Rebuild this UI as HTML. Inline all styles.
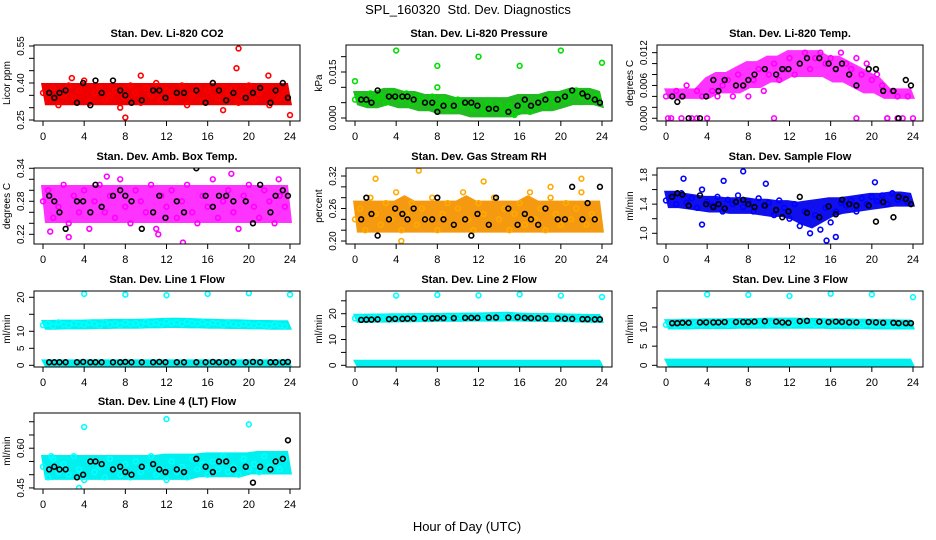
<!DOCTYPE html>
<html><head><meta charset="utf-8">
<style>
html,body{margin:0;padding:0;background:#fff;}
svg{display:block;font-family:"Liberation Sans",Arial,sans-serif;}
</style></head>
<body>
<svg id="chart" width="936" height="540" viewBox="0 0 936 540">
<rect width="936" height="540" fill="#fff"/>
<text x="468" y="14" text-anchor="middle" font-size="13">SPL_160320 &#160;Std. Dev. Diagnostics</text>
<text x="467" y="531" text-anchor="middle" font-size="13">Hour of Day (UTC)</text>
</svg>
<script>
// ---- shared categories ----
const hoursHalf = [0,0.5,1,1.5,2,2.5,3,3.5,4,4.5,5,5.5,6,6.5,7,7.5,8,8.5,9,9.5,10,10.5,11,11.5,12,12.5,13,13.5,14,14.5,15,15.5,16,16.5,17,17.5,18,18.5,19,19.5,20,20.5,21,21.5,22,22.5,23,23.5];
const hoursBand = [0,1,2,3,4,5,6,7,8,9,10,11,12,13,14,15,16,17,18,19,20,21,22,23,24];
const hoursBlack = [0.6,1.1,1.6,2.2,3.3,3.9,4.6,5.1,5.7,6.8,7.5,8.0,8.6,9.6,10.7,11.3,11.9,13.0,13.7,14.9,15.8,16.5,17.1,17.8,18.5,19.7,20.4,21.1,22.1,22.6,23.3,23.8];
const xTicks = [0,4,8,12,16,20,24];

// ---- CO2 ----
const co2Vals = [0.36,0.33,0.38,0.31,0.35,0.39,0.34,0.37,0.41,0.32,0.36,0.38,0.33,0.35,0.37,0.30,0.34,0.39,0.36,0.32,0.38,0.35,0.40,0.33,0.37,0.34,0.36,0.39,0.31,0.35,0.38,0.33,0.37,0.40,0.34,0.29,0.36,0.38,0.32,0.35,0.39,0.33,0.36,0.38,0.31,0.37,0.34,0.36];
const co2Black = [0.36,0.34,0.36,0.37,0.32,0.40,0.31,0.41,0.36,0.41,0.37,0.35,0.32,0.33,0.37,0.37,0.34,0.36,0.36,0.37,0.32,0.40,0.37,0.33,0.36,0.34,0.36,0.38,0.32,0.37,0.40,0.34];
const co2Lo = [0.32,0.32,0.32,0.32,0.32,0.32,0.32,0.32,0.32,0.32,0.32,0.32,0.32,0.32,0.32,0.32,0.32,0.32,0.32,0.32,0.32,0.32,0.32,0.32,0.32];
const co2Hi = [0.39,0.39,0.39,0.39,0.39,0.39,0.39,0.39,0.39,0.39,0.39,0.39,0.39,0.39,0.39,0.39,0.39,0.39,0.39,0.39,0.39,0.39,0.39,0.39,0.39];
const co2OutX = [19,18.8,8,24,9.5,2.8,21.9];
const co2OutY = [0.54,0.46,0.26,0.27,0.43,0.42,0.43];

// ---- Pressure ----
const presVals = [0.006,0.007,0.005,0.008,0.006,0.007,0.005,0.008,0.007,0.006,0.008,0.005,0.007,0.006,0.005,0.007,0.004,0.006,0.005,0.003,0.006,0.004,0.005,0.003,0.004,0.002,0.005,0.003,0.004,0.002,0.004,0.001,0.003,0.005,0.002,0.004,0.006,0.004,0.007,0.005,0.007,0.006,0.008,0.009,0.007,0.008,0.006,0.007];
const presBlack = [0.006,0.006,0.005,0.009,0.007,0.007,0.007,0.007,0.006,0.005,0.005,0.002,0.004,0.004,0.005,0.005,0.004,0.003,0.003,0.002,0.004,0.006,0.004,0.005,0.006,0.006,0.007,0.009,0.008,0.007,0.006,0.005];
const presLo = [0.005,0.004,0.004,0.005,0.004,0.004,0.003,0.003,0.002,0.002,0.002,0.001,0.001,0.001,0.001,0.001,0.002,0.002,0.003,0.003,0.004,0.005,0.005,0.005,0.004];
const presHi = [0.008,0.008,0.008,0.009,0.009,0.008,0.008,0.007,0.007,0.007,0.006,0.006,0.006,0.006,0.006,0.006,0.007,0.007,0.007,0.008,0.008,0.009,0.009,0.009,0.008];
const presOutX = [0,4,8,12,16,20,24,8];
const presOutY = [0.012,0.022,0.017,0.020,0.017,0.022,0.018,0.010];

// ---- Li-820 Temp ----
const tempVals = [0.004,0.000,0.005,0.004,0.006,0.000,0.005,0.004,0.000,0.005,0.004,0.006,0.007,0.004,0.008,0.006,0.004,0.007,0.009,0.005,0.008,0.010,0.007,0.009,0.011,0.008,0.010,0.012,0.009,0.011,0.012,0.010,0.011,0.009,0.012,0.010,0.009,0.011,0.008,0.010,0.007,0.008,0.006,0.000,0.005,0.004,0.000,0.004];
const tempBlack = [0.004,0.003,0.004,0.000,0.000,0.004,0.007,0.005,0.007,0.006,0.006,0.007,0.008,0.009,0.008,0.009,0.009,0.010,0.011,0.011,0.010,0.009,0.010,0.008,0.006,0.009,0.009,0.005,0.005,0.000,0.007,0.006];
const tempLo = [0.004,0.004,0.004,0.004,0.004,0.005,0.005,0.005,0.006,0.006,0.007,0.007,0.008,0.008,0.008,0.008,0.007,0.007,0.006,0.005,0.005,0.004,0.004,0.004,0.004];
const tempHi = [0.005,0.005,0.005,0.005,0.007,0.008,0.008,0.009,0.010,0.010,0.011,0.011,0.012,0.012,0.012,0.012,0.011,0.011,0.010,0.009,0.008,0.007,0.005,0.005,0.005];
const tempOutX = [0.2,1.5,3,10.5,18.5,21.5,22.5,24];
const tempOutY = [0,0,0,0,0,0,0,0];

// ---- Amb box temp ----
const ambVals = [0.28,0.30,0.25,0.27,0.31,0.24,0.29,0.26,0.30,0.23,0.28,0.31,0.26,0.29,0.25,0.32,0.27,0.24,0.30,0.28,0.26,0.31,0.23,0.29,0.27,0.30,0.25,0.28,0.31,0.26,0.24,0.29,0.27,0.32,0.25,0.28,0.30,0.26,0.23,0.29,0.31,0.27,0.25,0.30,0.28,0.24,0.29,0.27];
const ambBlack = [0.29,0.28,0.26,0.23,0.28,0.28,0.26,0.31,0.27,0.29,0.30,0.29,0.28,0.23,0.26,0.29,0.25,0.28,0.26,0.34,0.29,0.27,0.29,0.29,0.28,0.28,0.24,0.31,0.26,0.29,0.30,0.29];
const ambLo = [0.245,0.245,0.245,0.245,0.245,0.245,0.245,0.245,0.245,0.245,0.245,0.245,0.245,0.245,0.245,0.245,0.245,0.245,0.245,0.245,0.245,0.245,0.245,0.245,0.245];
const ambHi = [0.305,0.305,0.305,0.305,0.305,0.305,0.305,0.305,0.305,0.305,0.305,0.305,0.305,0.305,0.305,0.305,0.305,0.305,0.305,0.305,0.305,0.305,0.305,0.305,0.305];
const ambOutX = [0.7,2.5,6.2,11.2,13.6,18.3,22.9];
const ambOutY = [0.225,0.215,0.325,0.22,0.205,0.33,0.32];

// ---- Gas stream RH ----
const rhVals = [0.24,0.26,0.22,0.28,0.25,0.23,0.27,0.24,0.29,0.22,0.25,0.27,0.23,0.26,0.24,0.28,0.22,0.25,0.27,0.23,0.26,0.29,0.24,0.22,0.27,0.25,0.23,0.28,0.24,0.26,0.22,0.25,0.27,0.23,0.29,0.24,0.26,0.22,0.28,0.25,0.23,0.27,0.24,0.26,0.29,0.23,0.25,0.24];
const rhBlack = [0.24,0.28,0.25,0.21,0.24,0.26,0.25,0.24,0.26,0.24,0.24,0.28,0.24,0.23,0.24,0.21,0.25,0.23,0.28,0.26,0.23,0.25,0.24,0.23,0.26,0.24,0.24,0.30,0.24,0.27,0.24,0.30];
const rhLo = [0.22,0.22,0.22,0.22,0.22,0.22,0.22,0.22,0.22,0.22,0.22,0.22,0.22,0.22,0.22,0.22,0.22,0.22,0.22,0.22,0.22,0.22,0.22,0.22,0.22];
const rhHi = [0.27,0.27,0.27,0.27,0.27,0.28,0.27,0.27,0.27,0.27,0.27,0.28,0.27,0.27,0.27,0.27,0.27,0.28,0.27,0.27,0.27,0.27,0.27,0.27,0.27];
const rhOutX = [2.0,6.2,4.5,12.5,22.0,19.0];
const rhOutY = [0.315,0.33,0.20,0.31,0.315,0.30];

// ---- Sample flow ----
const sfVals = [1.45,1.50,1.40,1.55,1.42,1.48,1.35,1.60,1.44,1.38,1.50,1.30,1.46,1.40,1.52,1.36,1.44,1.30,1.48,1.38,1.42,1.25,1.45,1.35,1.20,1.40,1.10,1.30,1.00,1.25,1.05,1.35,1.15,1.30,1.42,1.38,1.45,1.30,1.48,1.40,1.50,1.44,1.52,1.40,1.55,1.46,1.48,1.42];
const sfBlack = [1.50,1.55,1.53,1.38,1.52,1.40,1.36,1.40,1.34,1.43,1.46,1.40,1.36,1.38,1.32,1.22,1.30,1.50,1.28,1.22,1.37,1.26,1.46,1.40,1.38,1.38,1.16,1.43,1.22,1.50,1.47,1.40];
const sfLo = [1.38,1.38,1.36,1.34,1.32,1.32,1.30,1.30,1.30,1.28,1.26,1.26,1.22,1.15,1.10,1.18,1.26,1.30,1.32,1.34,1.36,1.38,1.40,1.40,1.40];
const sfHi = [1.55,1.55,1.52,1.50,1.48,1.48,1.46,1.46,1.46,1.44,1.44,1.42,1.42,1.40,1.42,1.44,1.46,1.46,1.48,1.50,1.52,1.52,1.54,1.54,1.52];
const sfOutX = [7.5,1.7,5.6,15.6,16.5,20.3,3.5,9.7];
const sfOutY = [1.85,1.75,1.72,0.90,0.95,1.70,1.12,1.68];

// ---- Line 1 ----
const l1Vals = [11.8,12.3,11.5,12.6,12.0,11.7,12.4,12.1,11.9,12.5,12.2,11.6,12.7,12.0,12.3,11.8,12.6,12.1,12.4,11.9,12.8,12.2,12.5,12.0,12.9,12.3,12.6,12.1,12.8,12.4,12.2,12.7,12.0,12.5,12.3,11.9,12.4,12.1,11.8,12.2,12.0,11.7,12.1,11.8,11.6,12.0,11.7,11.5];
const l1Black = [0.9,0.9,0.9,0.9,0.9,1.0,0.9,0.9,0.9,0.9,0.9,1.0,0.9,0.9,0.9,1.0,0.9,0.9,0.9,0.9,0.9,1.0,0.9,0.9,0.9,0.9,1.0,0.9,0.9,0.9,0.9,1.0];
const l1Lo = [11.2,11.2,11.3,11.3,11.3,11.4,11.4,11.5,11.5,11.5,11.6,11.6,11.7,11.7,11.6,11.6,11.5,11.5,11.4,11.4,11.3,11.3,11.2,11.2,11.2];
const l1Hi = [12.6,12.6,12.7,12.7,12.7,12.8,12.8,12.9,12.9,12.9,13.0,13.1,13.2,13.3,13.2,13.1,13.0,12.9,12.8,12.8,12.7,12.6,12.6,12.5,12.5];
const l1Lo2 = [0.3,0.3,0.3,0.3,0.3,0.3,0.3,0.3,0.3,0.3,0.3,0.3,0.3,0.3,0.3,0.3,0.3,0.3,0.3,0.3,0.3,0.3,0.3,0.3,0.3];
const l1Hi2 = [1.0,1.0,1.0,1.0,1.0,1.0,1.0,1.0,1.0,1.0,1.0,1.0,1.0,1.0,1.0,1.0,1.0,1.0,1.0,1.0,1.0,1.0,1.0,1.0,1.0];
const l1OutX = [4,8,12,16,20,24];
const l1OutY = [21.0,20.8,20.6,21.0,21.2,20.8];

// ---- Line 2 ----
const l2Vals = [18.2,18.6,17.9,18.4,18.8,18.1,18.5,18.3,18.9,18.0,18.6,18.4,18.7,18.2,18.9,18.5,18.3,18.8,18.6,18.4,19.0,18.7,18.5,18.9,18.6,18.8,19.1,18.5,18.9,19.2,18.7,19.0,18.6,18.8,18.4,18.7,18.5,18.3,18.6,18.4,18.2,18.5,18.3,18.1,18.4,18.0,18.2,17.9];
const l2Black = [17.6,17.7,17.7,17.8,17.9,18.0,18.0,18.1,18.1,18.2,18.2,18.3,18.3,18.3,18.4,18.4,18.4,18.5,18.5,18.5,18.6,18.4,18.3,18.3,18.2,18.2,18.1,18.0,17.9,17.9,17.8,17.8];
const l2Lo = [17.4,17.4,17.5,17.5,17.6,17.6,17.7,17.7,17.8,17.8,17.8,17.9,17.9,17.9,17.9,18.0,17.9,17.8,17.8,17.7,17.7,17.6,17.5,17.4,17.4];
const l2Hi = [19.0,19.0,19.1,19.1,19.2,19.2,19.3,19.3,19.3,19.4,19.4,19.5,19.5,19.6,19.7,19.8,19.5,19.4,19.3,19.3,19.2,19.1,19.0,18.9,18.9];
const l2Lo2 = [0.2,0.2,0.2,0.2,0.2,0.2,0.2,0.2,0.2,0.2,0.2,0.2,0.2,0.2,0.2,0.2,0.2,0.2,0.2,0.2,0.2,0.2,0.2,0.2,0.2];
const l2Hi2 = [1.2,1.2,1.2,1.2,1.2,1.2,1.2,1.2,1.2,1.2,1.2,1.2,1.2,1.2,1.2,1.2,1.2,1.2,1.2,1.2,1.2,1.2,1.2,1.2,1.2];
const l2OutX = [4,8,12,16,20,24];
const l2OutY = [27.0,27.3,27.1,27.5,27.0,26.5];

// ---- Line 3 ----
const l3Vals = [10.6,11.0,10.3,10.8,11.2,10.5,10.9,10.7,11.1,10.4,10.8,11.0,10.6,11.2,10.9,10.5,11.1,10.7,10.9,11.3,10.6,11.0,10.8,11.2,10.5,10.9,11.1,10.7,11.0,10.6,10.8,11.2,10.5,10.9,10.7,11.0,10.6,10.8,10.4,10.9,10.7,10.5,10.8,10.6,10.4,10.7,10.5,10.3];
const l3Black = [11.0,11.0,11.1,11.1,11.2,11.2,11.2,11.2,11.3,11.3,11.3,11.3,11.4,11.5,11.4,11.2,11.1,11.5,11.6,11.4,11.3,11.4,11.3,11.2,11.2,11.3,11.2,11.1,11.1,11.0,11.0,11.0];
const l3Lo = [10.0,10.0,10.0,10.1,10.1,10.1,10.1,10.2,10.2,10.2,10.2,10.2,10.2,10.2,10.2,10.2,10.1,10.1,10.1,10.1,10.0,10.0,10.0,10.0,10.0];
const l3Hi = [11.4,11.4,11.5,11.5,11.6,11.6,11.6,11.7,11.7,11.7,11.8,11.8,11.8,11.8,11.7,11.7,11.6,11.6,11.6,11.5,11.5,11.4,11.4,11.3,11.3];
const l3Lo2 = [0.2,0.2,0.2,0.2,0.2,0.2,0.2,0.2,0.2,0.2,0.2,0.2,0.2,0.2,0.2,0.2,0.2,0.2,0.2,0.2,0.2,0.2,0.2,0.2,0.2];
const l3Hi2 = [1.1,1.1,1.1,1.1,1.1,1.1,1.1,1.1,1.1,1.1,1.1,1.1,1.1,1.1,1.1,1.1,1.1,1.1,1.1,1.1,1.1,1.1,1.1,1.1,1.1];
const l3OutX = [4,8,12,16,20,24];
const l3OutY = [18.5,18.4,18.1,18.7,18.5,17.8];

// ---- Line 4 ----
const l4Vals = [0.53,0.49,0.56,0.51,0.54,0.50,0.57,0.52,0.48,0.55,0.51,0.53,0.49,0.56,0.52,0.50,0.54,0.49,0.55,0.51,0.53,0.57,0.50,0.52,0.48,0.55,0.51,0.53,0.49,0.56,0.52,0.54,0.50,0.55,0.52,0.57,0.51,0.53,0.50,0.56,0.52,0.54,0.51,0.57,0.53,0.55,0.52,0.56];
const l4Black = [0.52,0.53,0.52,0.52,0.49,0.50,0.55,0.55,0.54,0.52,0.53,0.51,0.50,0.53,0.54,0.52,0.51,0.52,0.51,0.56,0.53,0.51,0.55,0.55,0.52,0.53,0.47,0.53,0.52,0.55,0.56,0.63];
const l4Lo = [0.49,0.49,0.49,0.49,0.49,0.49,0.49,0.49,0.49,0.49,0.49,0.49,0.49,0.49,0.49,0.50,0.50,0.50,0.50,0.50,0.51,0.51,0.51,0.51,0.51];
const l4Hi = [0.565,0.565,0.565,0.565,0.565,0.565,0.565,0.565,0.565,0.565,0.565,0.565,0.57,0.57,0.57,0.57,0.575,0.575,0.575,0.575,0.575,0.58,0.58,0.58,0.58];
const l4OutX = [4,12,20,3.5,0.8];
const l4OutY = [0.68,0.71,0.69,0.45,0.57];

const svg = document.getElementById('chart');
const NS = 'http://www.w3.org/2000/svg';
function mk(tag, attrs, parent){
  const e = document.createElementNS(NS, tag);
  for (const k in attrs) e.setAttribute(k, attrs[k]);
  (parent||svg).appendChild(e);
  return e;
}

const panels = [
 {key:'co2',title:'Stan. Dev. Li-820 CO2',yt:'Licor ppm',c:0,r:0,ylim:[0.246,0.554],ticks:[0.25,0.30,0.35,0.40,0.45,0.50,0.55],labs:['0.25','','','0.40','','','0.55'],col:'#ff0000',band:'#ee0000',vals:co2Vals,blk:co2Black,lo:co2Lo,hi:co2Hi,ox:co2OutX,oy:co2OutY},
 {key:'pressure',title:'Stan. Dev. Li-820 Pressure',yt:'kPa',c:1,r:0,ylim:[-0.00098,0.0238],ticks:[0,0.005,0.010,0.015,0.020],labs:['0.000','','','0.015',''],col:'#00dd00',band:'#22bb22',vals:presVals,blk:presBlack,lo:presLo,hi:presHi,ox:presOutX,oy:presOutY},
 {key:'li820-temp',title:'Stan. Dev. Li-820 Temp.',yt:'degrees C',c:2,r:0,ylim:[-0.0005,0.0134],ticks:[0,0.002,0.004,0.006,0.008,0.010,0.012],labs:['0.000','','','0.006','','','0.012'],col:'#ff00ff',band:'#ff33ff',vals:tempVals,blk:tempBlack,lo:tempLo,hi:tempHi,ox:tempOutX,oy:tempOutY},
 {key:'amb-box-temp',title:'Stan. Dev. Amb. Box Temp.',yt:'degrees C',c:0,r:1,ylim:[0.2024,0.3405],ticks:[0.22,0.24,0.26,0.28,0.30,0.32,0.34],labs:['0.22','','','0.28','','','0.34'],col:'#ff00ff',band:'#ff33ff',vals:ambVals,blk:ambBlack,lo:ambLo,hi:ambHi,ox:ambOutX,oy:ambOutY},
 {key:'gas-rh',title:'Stan. Dev. Gas Stream RH',yt:'percent',c:1,r:1,ylim:[0.1945,0.3348],ticks:[0.20,0.22,0.24,0.26,0.28,0.30,0.32],labs:['0.20','','','0.26','','','0.32'],col:'#ffaa00',band:'#f59a10',vals:rhVals,blk:rhBlack,lo:rhLo,hi:rhHi,ox:rhOutX,oy:rhOutY},
 {key:'sample-flow',title:'Stan. Dev. Sample Flow',yt:'ml/min',c:2,r:1,ylim:[0.853,1.896],ticks:[1.0,1.2,1.4,1.6,1.8],labs:['1.0','','1.4','','1.8'],col:'#0000ff',band:'#1010ee',vals:sfVals,blk:sfBlack,lo:sfLo,hi:sfHi,ox:sfOutX,oy:sfOutY},
 {key:'line1-flow',title:'Stan. Dev. Line 1 Flow',yt:'ml/min',c:0,r:2,ylim:[-0.5,21.85],ticks:[0,5,10,15,20],labs:['0','5','10','','20'],col:'#00ffff',band:'#00f0f0',vals:l1Vals,blk:l1Black,lo:l1Lo,hi:l1Hi,lo2:l1Lo2,hi2:l1Hi2,ox:l1OutX,oy:l1OutY},
 {key:'line2-flow',title:'Stan. Dev. Line 2 Flow',yt:'ml/min',c:1,r:2,ylim:[-0.66,28.8],ticks:[0,5,10,15,20,25],labs:['0','','10','','20',''],col:'#00ffff',band:'#00f0f0',vals:l2Vals,blk:l2Black,lo:l2Lo,hi:l2Hi,lo2:l2Lo2,hi2:l2Hi2,ox:l2OutX,oy:l2OutY},
 {key:'line3-flow',title:'Stan. Dev. Line 3 Flow',yt:'ml/min',c:2,r:2,ylim:[-0.44,19.4],ticks:[0,5,10,15],labs:['0','5','10',''],col:'#00ffff',band:'#00f0f0',vals:l3Vals,blk:l3Black,lo:l3Lo,hi:l3Hi,lo2:l3Lo2,hi2:l3Hi2,ox:l3OutX,oy:l3OutY},
 {key:'line4-flow',title:'Stan. Dev. Line 4 (LT) Flow',yt:'ml/min',c:0,r:3,ylim:[0.446,0.733],ticks:[0.45,0.50,0.55,0.60,0.65,0.70],labs:['0.45','','','0.60','',''],col:'#00ffff',band:'#00f0f0',vals:l4Vals,blk:l4Black,lo:l4Lo,hi:l4Hi,ox:l4OutX,oy:l4OutY}
];

const colX = [34,346,657], rowY = [45,168,291,413], W = 266, H = 76;

panels.forEach(p => {
  const x0 = colX[p.c], y0 = rowY[p.r];
  const g = mk('g', {});
  
  
  const sx = v => x0 + 9 + v * (247/24);
  const sy = v => y0 + H - (v - p.ylim[0]) / (p.ylim[1]-p.ylim[0]) * H;
  const clip = 'clip-' + p.key;
  const cp = mk('clipPath', {id: clip}, g);
  mk('rect', {x:x0, y:y0, width:W, height:H}, cp);
  const data = mk('g', {'clip-path':'url(#'+clip+')'}, g);

  const t = mk('text', {x:x0+W/2, y:y0-8, 'text-anchor':'middle','font-size':11,'font-weight':'bold'}, g);
  t.textContent = p.title;
  
  

  function band(lo, hi, nm){
    let pts = [];
    hoursBand.forEach((h,i)=> pts.push((sx(h)-2)+','+(sy(hi[i])-2.5)));
    for (let i=hoursBand.length-1;i>=0;i--) pts.push((sx(hoursBand[i])+2)+','+(sy(lo[i])+2.5));
    const b = mk('polygon', {points:pts.join(' '), fill:p.band}, data);
    
    
  }
  band(p.lo, p.hi, p.key + '-band');
  if (p.lo2) band(p.lo2, p.hi2, p.key + '-zero-band');

  function pt(x, y, col, nm){
    const c = mk('circle', {cx:sx(x), cy:sy(y), r:2.4, fill:'none', stroke:col, 'stroke-width':1.6}, data);
    
    
  }
  p.vals.forEach((v,i)=> pt(hoursHalf[i], v, p.col, p.key + '-point'));
  p.ox.forEach((x,i)=> pt(x, p.oy[i], p.col, p.key + '-outlier'));
  p.blk.forEach((v,i)=> pt(hoursBlack[i], v, '#000', p.key + '-hourly-point'));

  const bx = mk('rect', {x:x0, y:y0, width:W, height:H, fill:'none', stroke:'#000', 'stroke-width':1}, g);
  
  

  const xa = mk('g', {}, g);
  
  
  xTicks.forEach(v => {
    mk('line', {x1:sx(v), x2:sx(v), y1:y0+H, y2:y0+H+5, stroke:'#000'}, xa);
    const tl = mk('text', {x:sx(v), y:y0+H+19, 'text-anchor':'middle','font-size':11}, xa);
    tl.textContent = v;
  });
  const ya = mk('g', {}, g);
  
  
  p.ticks.forEach((v,i) => {
    mk('line', {x1:x0-5, x2:x0, y1:sy(v), y2:sy(v), stroke:'#000'}, ya);
    if (p.labs[i]) {
      const tx = x0-10, ty = sy(v);
      const tl = mk('text', {x:tx, y:ty, 'text-anchor':'middle','font-size':10, transform:'rotate(-90 '+tx+' '+ty+')'}, ya);
      tl.textContent = p.labs[i];
    }
  });
  const yx = x0-24, yy = y0+H/2;
  const yt = mk('text', {x:yx, y:yy, 'text-anchor':'middle','font-size':10, transform:'rotate(-90 '+yx+' '+yy+')'}, g);
  yt.textContent = p.yt;
  
  
});
</script>
</body></html>
